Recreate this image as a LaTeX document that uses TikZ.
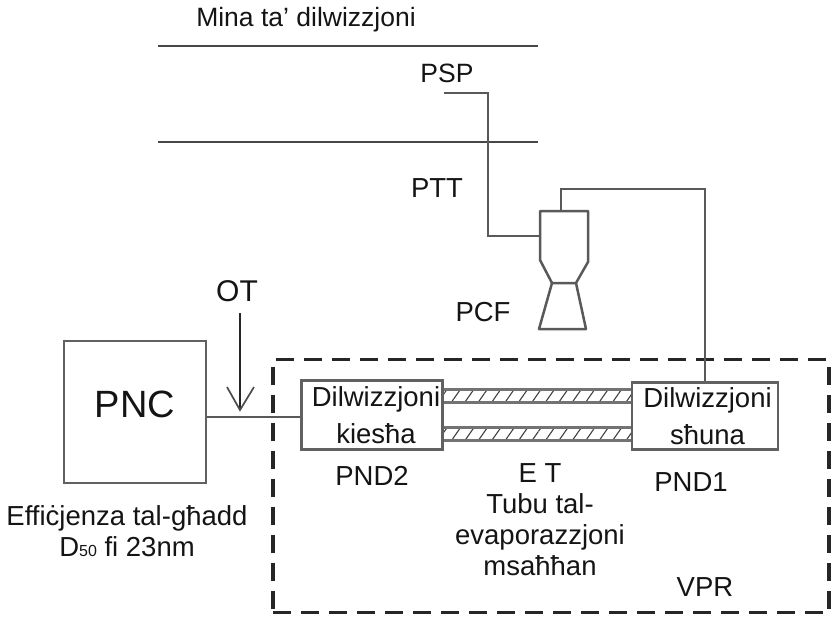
\documentclass[tikz,border=0pt]{standalone}
\usepackage{fontspec}
\setmainfont{Liberation Sans}
\usetikzlibrary{patterns.meta}
\begin{document}
\begin{tikzpicture}[x=1pt,y=-1pt,
  wire/.style={draw=black!65,line width=2.5pt},
  lbl/.style={inner sep=0pt,text=black!92,font=\fontsize{27.5}{31}\selectfont,align=center},
  dbox/.style={draw=black!62,line width=2.4pt,fill=white,minimum width=141pt,minimum height=69pt,inner sep=0pt,align=center,font=\fontsize{27.5}{37}\selectfont,text=black!92},
  tube/.style={draw=black!55,line width=2.8pt,pattern={Lines[angle=55,distance=11pt,line width=1.1pt]},pattern color=black!75}]
\useasboundingbox (0,0) rectangle (832,625);
% dashed enclosure
\node[draw=black!85,line width=3.4pt,dash pattern=on 18pt off 10pt,minimum width=556pt,minimum height=253pt,inner sep=0pt] (vpr) at (551,486) {};
% tubes
\node[tube,minimum width=190pt,minimum height=13pt,inner sep=0pt] (t1) at (537,396) {};
\node[tube,minimum width=190pt,minimum height=13pt,inner sep=0pt] (t2) at (537,434) {};
% boxes
\node[dbox] (kiesha) at (372,415) {\hspace*{8pt}Dilwizzjoni\\\hspace*{8pt}kiesħa};
\node[dbox,minimum width=146pt,minimum height=67pt] (shuna) at (705,416) {\hspace*{5pt}Dilwizzjoni\\\hspace*{5pt}sħuna};
\node[draw=black!62,line width=2.4pt,minimum width=142pt,minimum height=142pt,inner sep=0pt,font=\fontsize{38}{44}\selectfont,text=black!92,text depth=15pt] (pnc) at (135,412) {PNC};
% top lines
\coordinate (la) at (158,46); \coordinate (lb) at (538,46);
\coordinate (lc) at (158,142); \coordinate (ld) at (538,142);
\draw[black!72,line width=2.2pt] (la) -- (lb);
\draw[black!72,line width=2.2pt] (lc) -- (ld);
% nozzle
\coordinate (n1) at (540,211); \coordinate (n2) at (588,211);
\coordinate (n3) at (588,262); \coordinate (n4) at (576,283);
\coordinate (n5) at (552,283); \coordinate (n6) at (540,260);
\coordinate (n7) at (586,329); \coordinate (n8) at (539,329);
\draw[wire,line join=round] (n1) -- (n2) -- (n3) -- (n4) -- (n5) -- (n6) -- cycle;
\draw[wire,line join=round] (n5) -- (n8) -- (n7) -- (n4);
% connectors
\coordinate (psp) at (444,93);
\coordinate (ninlet) at (540,236);
\draw[wire] (psp) -| (488,236) -- (ninlet);
\coordinate (ntop) at (561,211);
\draw[wire] (ntop) -- (561,189) -| (shuna.north);
\draw[wire] (pnc.east |- 0,417) -- (kiesha.west |- 0,417);
\coordinate (ota) at (240,313); \coordinate (otb) at (240,410);
\coordinate (aa) at (227,387); \coordinate (ab) at (254,387);
\draw[black!85,line width=1.7pt] (ota) -- (otb);
\draw[black!70,line width=1.7pt] (aa) -- (otb) -- (ab);
% labels
\node[lbl,font=\fontsize{26.5}{31}\selectfont] (t0) at (306,20) {Mina ta’ dilwizzjoni};
\node[lbl,font=\fontsize{26.5}{31}\selectfont] (t1a) at (447,73) {PSP};
\node[lbl] (t2a) at (437,188) {PTT};
\node[lbl] (t3) at (483,312) {PCF};
\node[lbl,font=\fontsize{30}{34}\selectfont] (t4) at (237,291) {OT};
\node[lbl] (t5) at (127,531) {Effiċjenza tal-għadd\\D{\fontsize{16}{16}\selectfont 50} fi 23nm};
\node[lbl] (t6) at (372,476) {PND2};
\node[lbl] (t7) at (691,482) {PND1};
\node[lbl] (t8) at (540,520) {E T\\Tubu tal-\\evaporazzjoni\\msaħħan};
\node[lbl] (t9) at (705,587) {VPR};
\end{tikzpicture}
\end{document}
